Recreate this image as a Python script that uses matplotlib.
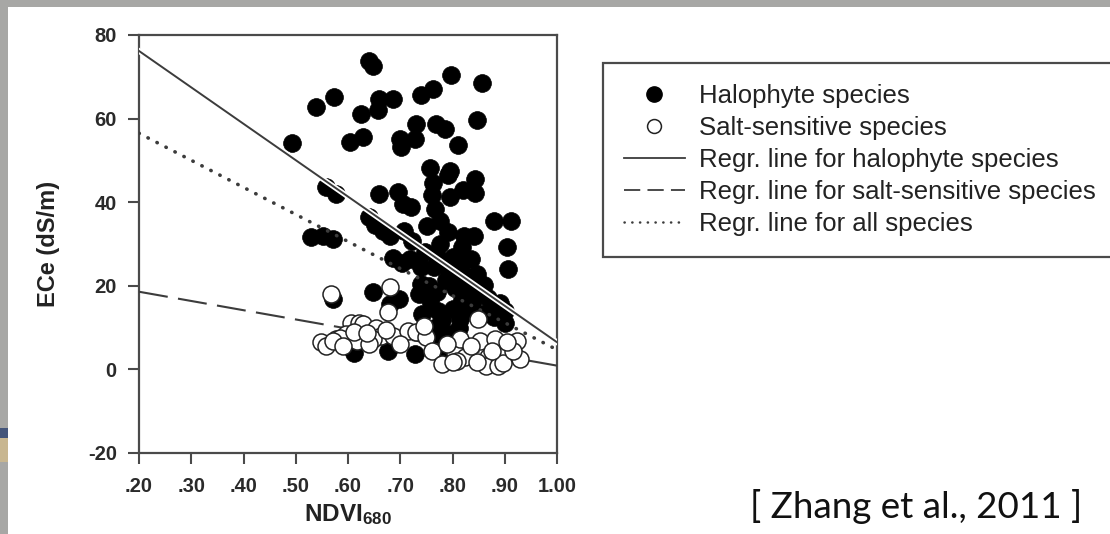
import matplotlib
matplotlib.use("Agg")
import matplotlib.pyplot as plt
import matplotlib.patheffects as pe
from matplotlib.lines import Line2D
from matplotlib.patches import Rectangle
import numpy as np

plt.rcParams['font.family'] = 'Liberation Sans'
plt.rcParams['mathtext.fontset'] = 'custom'
plt.rcParams['mathtext.rm'] = 'Liberation Sans:bold'
plt.rcParams['mathtext.default'] = 'rm'
plt.rcParams['axes.unicode_minus'] = False

# halophyte species (NDVI680, ECe)
halo_x = [0.641, 0.647, 0.493, 0.539, 0.574, 0.603, 0.628, 0.625, 0.657, 0.660,
          0.686, 0.699, 0.702, 0.728, 0.731, 0.740, 0.763, 0.798, 0.769, 0.785,
          0.811, 0.856, 0.846, 0.757, 0.795, 0.558, 0.577, 0.529, 0.552, 0.571,
          0.640, 0.652, 0.660, 0.696, 0.721, 0.705, 0.667, 0.708, 0.680, 0.723,
          0.687, 0.718, 0.740, 0.762, 0.792, 0.843, 0.760, 0.795, 0.820, 0.844,
          0.766, 0.776, 0.752, 0.792, 0.822, 0.842, 0.776, 0.879, 0.912, 0.905,
          0.907, 0.801, 0.820, 0.819, 0.704, 0.765, 0.860, 0.647, 0.680, 0.698,
          0.742, 0.756, 0.780, 0.812, 0.819, 0.822, 0.879, 0.901, 0.901, 0.859,
          0.797, 0.828, 0.850, 0.788, 0.820, 0.846, 0.795, 0.740, 0.612, 0.676,
          0.728, 0.769, 0.784, 0.571, 0.770, 0.755, 0.770, 0.805, 0.835, 0.880,
          0.890, 0.765, 0.800, 0.748, 0.785, 0.810, 0.838, 0.868, 0.892, 0.735,
          0.772, 0.815]
halo_y = [73.8, 72.6, 54.1, 62.7, 65.1, 54.4, 55.6, 61.2, 62.0, 64.8,
          64.8, 55.2, 53.2, 55.2, 58.8, 65.6, 67.2, 70.4, 58.8, 57.6,
          53.6, 68.4, 59.6, 48.2, 47.5, 43.6, 42.0, 31.6, 32.0, 31.2,
          36.4, 34.6, 42.0, 42.4, 38.8, 39.6, 33.2, 33.2, 31.8, 30.8,
          26.6, 26.4, 24.4, 44.7, 46.6, 45.5, 41.8, 41.2, 42.8, 42.2,
          38.4, 35.6, 34.4, 32.8, 32.0, 32.0, 30.0, 35.6, 35.6, 29.2,
          24.1, 26.8, 26.0, 29.2, 25.4, 24.4, 20.2, 18.5, 15.7, 16.8,
          13.3, 16.5, 11.7, 10.0, 16.5, 14.2, 15.3, 14.0, 11.2, 13.3,
          23.6, 18.8, 18.8, 21.3, 22.9, 22.9, 8.5, 20.5, 4.0, 4.3,
          3.8, 7.6, 5.2, 16.8, 27.2, 20.0, 18.5, 19.5, 26.5, 12.5,
          16.0, 10.0, 14.5, 28.0, 25.0, 21.0, 16.0, 17.0, 13.0, 18.0,
          14.0, 12.0]

# salt-sensitive species
salt_x = [0.568, 0.680, 0.676, 0.549, 0.577, 0.558, 0.606, 0.622, 0.597, 0.618,
          0.628, 0.654, 0.664, 0.647, 0.641, 0.686, 0.714, 0.731, 0.750, 0.760,
          0.779, 0.804, 0.814, 0.824, 0.808, 0.849, 0.852, 0.868, 0.881, 0.865,
          0.887, 0.903, 0.923, 0.929, 0.897, 0.846, 0.800, 0.916, 0.584, 0.571,
          0.612, 0.672, 0.700, 0.745, 0.790, 0.835, 0.875, 0.905, 0.590, 0.636]
salt_y = [18.1, 19.8, 13.8, 6.5, 7.3, 5.7, 11.2, 11.2, 8.5, 6.9,
          10.9, 10.0, 8.0, 7.3, 6.1, 8.0, 9.3, 8.9, 7.7, 4.5,
          1.3, 4.0, 7.3, 2.9, 2.1, 12.1, 6.9, 2.9, 7.3, 0.9,
          0.9, 3.7, 6.9, 2.5, 1.5, 1.7, 1.7, 4.5, 7.6, 6.9,
          9.0, 9.5, 6.0, 10.5, 6.0, 5.5, 4.5, 6.5, 5.5, 8.6]

# regression lines: ECe = intercept + slope * NDVI
reg_halo = (93.6, -87.1)
reg_salt = (23.0, -22.1)
reg_all = (69.45, -64.75)

xticks = [0.2, 0.3, 0.4, 0.5, 0.6, 0.7, 0.8, 0.9, 1.0]
xtick_labels = ['.20', '.30', '.40', '.50', '.60', '.70', '.80', '.90', '1.00']
yticks = [-20, 0, 20, 40, 60, 80]

W, H = 1110, 534
fig = plt.figure(figsize=(W / 100, H / 100), dpi=100, facecolor='#a7a7a5')

# white slide area with the grey border strip
fig.patches.append(Rectangle((8 / W, 0), 1, 1 - 7 / H, transform=fig.transFigure,
                             facecolor='white', edgecolor='none', zorder=-10))
fig.patches.append(Rectangle((0, 1 - 438 / H), 8 / W, 10 / H, transform=fig.transFigure,
                             facecolor='#44557a', edgecolor='none', zorder=-10))
fig.patches.append(Rectangle((0, 1 - 462 / H), 8 / W, 24 / H, transform=fig.transFigure,
                             facecolor='#c8b690', edgecolor='none', zorder=-10))

ax = fig.add_axes([139 / W, 1 - 453 / H, 418 / W, 418 / H])
ax.set_facecolor('none')

halo_line_fx = [pe.Stroke(linewidth=4, foreground='white'), pe.Normal()]
xs = np.array([0.2, 1.0])

ax.scatter(halo_x, halo_y, s=165, color='black', edgecolors='black', linewidths=0.5, zorder=2)
ax.plot(xs, reg_halo[0] + reg_halo[1] * xs, color='#3c3c3c', lw=1.4, zorder=3,
        path_effects=halo_line_fx)
ax.plot(xs, reg_all[0] + reg_all[1] * xs, color='#3c3c3c', lw=2.6,
        linestyle=(0, (0.1, 2.7)), dash_capstyle='round', zorder=3)
ax.plot(xs, reg_salt[0] + reg_salt[1] * xs, color='#3c3c3c', lw=1.5,
        linestyle=(0, (14, 5)), zorder=3)
ax.scatter(salt_x, salt_y, s=150, color='white', edgecolors='#222222', linewidths=1.1, zorder=4)

ax.set_xlim(0.2, 1.0)
ax.set_ylim(-20, 80)
ax.set_xticks(xticks)
ax.set_xticklabels(xtick_labels)
ax.set_yticks(yticks)

for sp in ax.spines.values():
    sp.set_color('#4a4a4a')
    sp.set_linewidth(1.6)
ax.tick_params(direction='out', length=8, width=1.5, color='#4a4a4a',
               labelsize=14.5, labelcolor='#2a2a2a')
ax.tick_params(axis='x', pad=9)
ax.tick_params(axis='y', pad=8)
for lbl in ax.get_xticklabels() + ax.get_yticklabels():
    lbl.set_fontweight('bold')

ax.set_xlabel('NDVI$_{680}$', fontsize=17.5, fontweight='bold', color='#222222', labelpad=5)
ax.set_ylabel('ECe (dS/m)', fontsize=17, fontweight='bold', color='#222222', labelpad=20)

handles = [
    Line2D([], [], marker='o', color='black', linestyle='none', markersize=11),
    Line2D([], [], marker='o', markerfacecolor='white', markeredgecolor='#222222',
           linestyle='none', markersize=10, markeredgewidth=1.1),
    Line2D([], [], color='#3c3c3c', lw=1.3),
    Line2D([], [], color='#3c3c3c', lw=1.3, linestyle=(0, (9, 4))),
    Line2D([], [], color='#3c3c3c', lw=1.8, linestyle=(0, (0.1, 3)), dash_capstyle='round'),
]
labels = ['Halophyte species', 'Salt-sensitive species', 'Regr. line for halophyte species',
          'Regr. line for salt-sensitive species', 'Regr. line for all species']
leg = fig.legend(handles, labels, loc='upper left', bbox_to_anchor=(603 / W, 1 - 63 / H),
                 bbox_transform=fig.transFigure, borderaxespad=0, fontsize=18.5,
                 handlelength=2.4, handletextpad=0.55, labelspacing=0.32, borderpad=0.8,
                 fancybox=False, framealpha=1)
leg.get_frame().set_edgecolor('#4a4a4a')
leg.get_frame().set_linewidth(1.6)
for t in leg.get_texts():
    t.set_color('#222222')

fig.text(750 / W, 1 - 507 / H, '[ Zhang et al., 2011 ]', fontsize=26.5, family='Lato',
         color='#111111', ha='left', va='center')

fig.savefig('out.png', dpi=100, facecolor=fig.get_facecolor())
